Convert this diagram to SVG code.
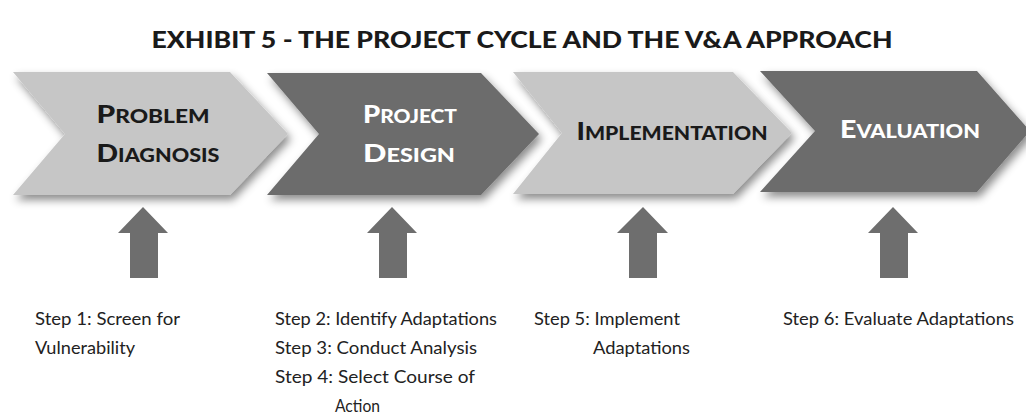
<svg xmlns="http://www.w3.org/2000/svg" width="1026" height="417" viewBox="0 0 1026 417">
<style>
.title{font-family:Lato,"Liberation Sans",sans-serif;font-weight:900;font-size:23px;fill:#1a1a1a}
.lbl{font-family:Lato,"Liberation Sans",sans-serif;font-weight:900;font-size:19px}
.big{font-size:25px}
.dk{fill:#1a1a1a}
.wt{fill:#ffffff}
.light{fill:#c6c6c6}
.dark{fill:#6c6c6c}
.arrow{fill:#6e6e6e}
.step{font-family:Lato,"Liberation Sans",sans-serif;font-size:16.5px;fill:#222222}
</style>
<defs>
<filter id="sh" x="-10%" y="-20%" width="125%" height="150%">
<feDropShadow dx="3" dy="5" stdDeviation="4" flood-color="#000" flood-opacity="0.45"/>
</filter>
</defs>
<rect width="1026" height="417" fill="#ffffff"/>
<text class="title" x="522" y="48" text-anchor="middle" textLength="741" lengthAdjust="spacingAndGlyphs">EXHIBIT 5 - THE PROJECT CYCLE AND THE V&amp;A APPROACH</text>

<g id="node-problem-diagnosis">
<polygon class="light" filter="url(#sh)" points="13,72 230,72 288,134 230,195 13,195 65,134"/>
<text class="lbl dk" x="153" y="123" text-anchor="middle" textLength="113" lengthAdjust="spacingAndGlyphs"><tspan class="big">P</tspan>ROBLEM</text>
<text class="lbl dk" x="158" y="162" text-anchor="middle" textLength="123" lengthAdjust="spacingAndGlyphs"><tspan class="big">D</tspan>IAGNOSIS</text>
</g>
<g id="node-project-design">
<polygon class="dark" filter="url(#sh)" points="267,73 481,73 539,134 481,195 267,195 319,134"/>
<text class="lbl wt" x="410" y="123" text-anchor="middle" textLength="94" lengthAdjust="spacingAndGlyphs"><tspan class="big">P</tspan>ROJECT</text>
<text class="lbl wt" x="409" y="162" text-anchor="middle" textLength="92" lengthAdjust="spacingAndGlyphs"><tspan class="big">D</tspan>ESIGN</text>
</g>
<g id="node-implementation">
<polygon class="light" filter="url(#sh)" points="513,72 733,72 792,133 733,194 513,194 562,133"/>
<text class="lbl dk" x="672" y="140" text-anchor="middle" textLength="191" lengthAdjust="spacingAndGlyphs"><tspan class="big">I</tspan>MPLEMENTATION</text>
</g>
<g id="node-evaluation">
<polygon class="dark" filter="url(#sh)" points="760,71 977,71 1030,131 977,192 760,192 815,131"/>
<text class="lbl wt" x="910" y="138" text-anchor="middle" textLength="140" lengthAdjust="spacingAndGlyphs"><tspan class="big">E</tspan>VALUATION</text>
</g>

<g id="connectors">
<polygon class="arrow" points="143,207 168,233 158,233 158,278 130,278 130,233 118,233"/>
<polygon class="arrow" points="392,207 417,233 407,233 407,278 379,278 379,233 367,233"/>
<polygon class="arrow" points="643,207 668,233 657,233 657,278 629,278 629,233 617,233"/>
<polygon class="arrow" points="893,207 918,233 908,233 908,278 880,278 880,233 868,233"/>
</g>

<g id="step1">
<text class="step" x="35" y="325" textLength="145" lengthAdjust="spacingAndGlyphs">Step 1: Screen for</text>
<text class="step" x="35" y="354" textLength="100" lengthAdjust="spacingAndGlyphs">Vulnerability</text>
</g>
<g id="steps2-4">
<text class="step" x="275" y="325" textLength="222" lengthAdjust="spacingAndGlyphs">Step 2: Identify Adaptations</text>
<text class="step" x="275" y="354" textLength="202" lengthAdjust="spacingAndGlyphs">Step 3: Conduct Analysis</text>
<text class="step" x="275" y="383" textLength="200" lengthAdjust="spacingAndGlyphs">Step 4: Select Course of</text>
<text class="step" x="335" y="412" textLength="45" lengthAdjust="spacingAndGlyphs">Action</text>
</g>
<g id="step5">
<text class="step" x="534" y="325" textLength="146" lengthAdjust="spacingAndGlyphs">Step 5: Implement</text>
<text class="step" x="593" y="354" textLength="97" lengthAdjust="spacingAndGlyphs">Adaptations</text>
</g>
<g id="step6">
<text class="step" x="783" y="325" textLength="231" lengthAdjust="spacingAndGlyphs">Step 6: Evaluate Adaptations</text>
</g>
</svg>
